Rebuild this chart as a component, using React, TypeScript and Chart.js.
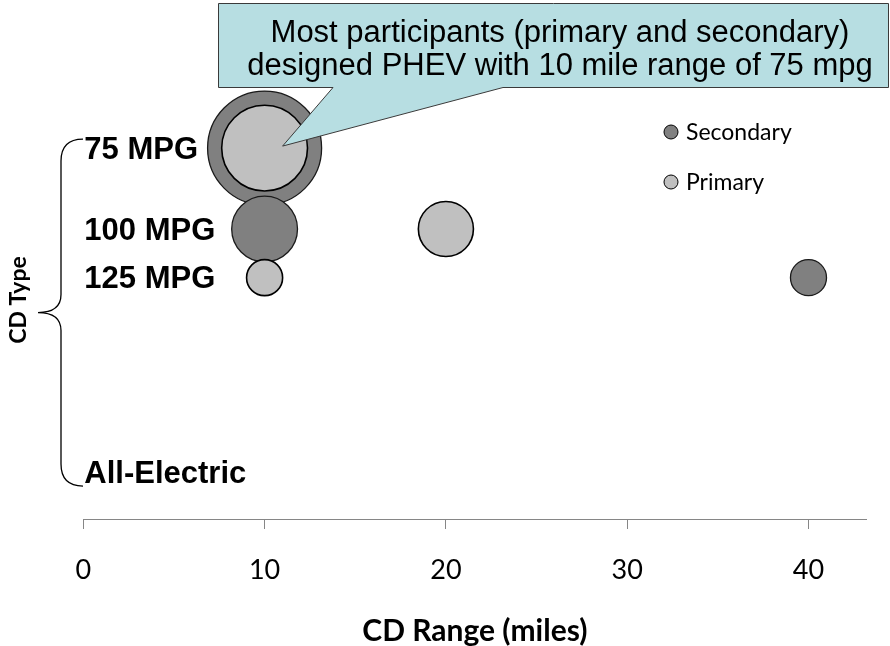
import { useEffect, useRef } from 'react';
import { Chart, registerables } from 'chart.js';

Chart.register(...registerables);

// Charge-depleting (CD) operating types and their fuel use in gallons per 100 miles
const cdTypeLabels = ['75 MPG', '100 MPG', '125 MPG', 'All-Electric'];
const cdTypeFuelUse = [1.333, 1.0, 0.8, 0];

const xTickValues = [0, 10, 20, 30, 40];

// Secondary vehicle designs: CD range (miles), CD type index, participant count
const secondaryRange = [10, 10, 40];
const secondaryType = [0, 1, 2];
const secondaryCount = [30, 10, 3];

// Primary vehicle designs
const primaryRange = [10, 20, 10];
const primaryType = [0, 1, 2];
const primaryCount = [17, 7, 3];

const calloutLines = [
  'Most participants (primary and secondary)',
  'designed PHEV with 10 mile range of 75 mpg',
];

const SECONDARY_COLOR = '#808080';
const PRIMARY_COLOR = '#C0C0C0';
const MAX_RADIUS = 57;
const maxCount = Math.max(...secondaryCount, ...primaryCount);

const bubble = (range: number[], type: number[], count: number[]) =>
  range.map((r, i) => ({
    x: r,
    y: cdTypeFuelUse[type[i]],
    r: MAX_RADIUS * Math.sqrt(count[i] / maxCount),
  }));

const ARIAL = '"Liberation Sans", Arial, sans-serif';
const CALIBRI = 'Lato, "Open Sans", sans-serif';

const annotations = {
  id: 'annotations',
  beforeDatasetsDraw(chart: any) {
    const { ctx, scales } = chart;
    const x = scales.x;
    const y = scales.y;
    ctx.save();
    // CD type labels along the left of the plot
    ctx.font = `bold 31px ${ARIAL}`;
    ctx.fillStyle = '#000';
    ctx.textAlign = 'left';
    ctx.textBaseline = 'middle';
    const x0 = x.getPixelForValue(0) + 1;
    cdTypeLabels.forEach((label, i) => {
      ctx.fillText(label, x0, y.getPixelForValue(cdTypeFuelUse[i]) + 2);
    });

    // curly brace grouping the CD types
    const top = y.getPixelForValue(cdTypeFuelUse[0]) - 9;
    const bot = y.getPixelForValue(cdTypeFuelUse[3]) + 14;
    const mid = (top + bot) / 2;
    const bx = 61;
    const tipX = 38;
    const endX = 83;
    const r = 22;
    const rm = 18;
    ctx.beginPath();
    ctx.moveTo(endX, top);
    ctx.quadraticCurveTo(bx, top, bx, top + r);
    ctx.lineTo(bx, mid - rm);
    ctx.quadraticCurveTo(bx, mid, tipX, mid);
    ctx.quadraticCurveTo(bx, mid, bx, mid + rm);
    ctx.lineTo(bx, bot - r);
    ctx.quadraticCurveTo(bx, bot, endX, bot);
    ctx.lineWidth = 1.3;
    ctx.strokeStyle = '#000';
    ctx.stroke();
    ctx.restore();
  },
  afterDraw(chart: any) {
    const { ctx, scales } = chart;
    const x = scales.x;
    const y = scales.y;
    ctx.save();

    // legend inside the plot
    const legendItems = [
      { text: 'Secondary', color: SECONDARY_COLOR, cy: 132 },
      { text: 'Primary', color: PRIMARY_COLOR, cy: 182 },
    ];
    ctx.font = `23px ${CALIBRI}`;
    ctx.textAlign = 'left';
    ctx.textBaseline = 'middle';
    legendItems.forEach((item) => {
      ctx.beginPath();
      ctx.arc(671, item.cy, 7, 0, Math.PI * 2);
      ctx.fillStyle = item.color;
      ctx.fill();
      ctx.lineWidth = 1;
      ctx.strokeStyle = '#000';
      ctx.stroke();
      ctx.fillStyle = '#000';
      ctx.fillText(item.text, 686, item.cy + 1);
    });

    // callout pointing at the largest bubble
    const tipX = x.getPixelForValue(primaryRange[0]) + 18;
    const tipY = y.getPixelForValue(cdTypeFuelUse[primaryType[0]]) - 2;
    const left = 218.5;
    const right = 888.5;
    const top = 3.5;
    const bottom = 87.5;
    ctx.beginPath();
    ctx.moveTo(left, top);
    ctx.lineTo(right, top);
    ctx.lineTo(right, bottom);
    ctx.lineTo(503, bottom);
    ctx.lineTo(tipX, tipY);
    ctx.lineTo(333, bottom);
    ctx.lineTo(left, bottom);
    ctx.closePath();
    ctx.fillStyle = '#B7DEE2';
    ctx.fill();
    ctx.lineWidth = 1;
    ctx.strokeStyle = '#3A3A3A';
    ctx.stroke();

    ctx.fillStyle = '#000';
    ctx.font = `31px ${ARIAL}`;
    ctx.textAlign = 'center';
    ctx.textBaseline = 'alphabetic';
    const cx = 560;
    ctx.fillText(calloutLines[0], cx, 42);
    ctx.fillText(calloutLines[1], cx, 75);
    ctx.restore();
  },
};

export default function App() {
  const canvasRef = useRef<HTMLCanvasElement>(null);

  useEffect(() => {
    document.body.style.margin = '0';
    const canvas = canvasRef.current;
    if (!canvas) return;
    const chart = new Chart(canvas, {
      type: 'bubble',
      data: {
        datasets: [
          {
            label: 'Primary',
            data: bubble(primaryRange, primaryType, primaryCount),
            backgroundColor: PRIMARY_COLOR,
            borderColor: '#000',
            borderWidth: 1.6,
            clip: false,
          },
          {
            label: 'Secondary',
            data: bubble(secondaryRange, secondaryType, secondaryCount),
            backgroundColor: SECONDARY_COLOR,
            borderColor: '#1a1a1a',
            borderWidth: 1.3,
            clip: false,
          },
        ],
      },
      options: {
        animation: false,
        responsive: false,
        maintainAspectRatio: false,
        layout: { autoPadding: false, padding: { top: 81, right: 23.5, bottom: 0, left: 0 } },
        plugins: {
          legend: { display: false },
          tooltip: { enabled: false },
          title: { display: false },
        },
        scales: {
          x: {
            type: 'linear',
            min: 0,
            max: 43.2,
            afterBuildTicks: (scale: any) => {
              scale.ticks = xTickValues.map((v) => ({ value: v }));
            },
            afterFit: (scale: any) => {
              scale.height = 127;
            },
            grid: {
              display: true,
              drawOnChartArea: false,
              drawTicks: true,
              tickLength: 10,
              color: '#868686',
              lineWidth: 1,
            },
            border: { display: true, color: '#868686', width: 1 },
            ticks: {
              color: '#000',
              padding: 25,
              font: { family: CALIBRI, size: 27 },
            },
            title: {
              display: true,
              text: 'CD Range (miles)',
              color: '#000',
              font: { family: CALIBRI, size: 30, weight: 'bold', lineHeight: 1 },
              padding: { top: 0, bottom: 0 },
            },
          },
          y: {
            type: 'linear',
            min: -0.193,
            max: 1.609,
            afterFit: (scale: any) => {
              scale.width = 83.3;
            },
            grid: { display: false, drawTicks: false },
            border: { display: false },
            ticks: { display: false },
            title: {
              display: true,
              text: 'CD Type',
              color: '#000',
              font: { family: CALIBRI, size: 23, weight: 'bold', lineHeight: 1 },
              padding: { top: 7.5, bottom: 0 },
            },
          },
        },
      },
      plugins: [annotations],
    });
    return () => chart.destroy();
  }, []);

  return (
    <div style={{ width: 890, height: 646 }}>
      <canvas ref={canvasRef} width={890} height={646} style={{ display: 'block' }} />
    </div>
  );
}
